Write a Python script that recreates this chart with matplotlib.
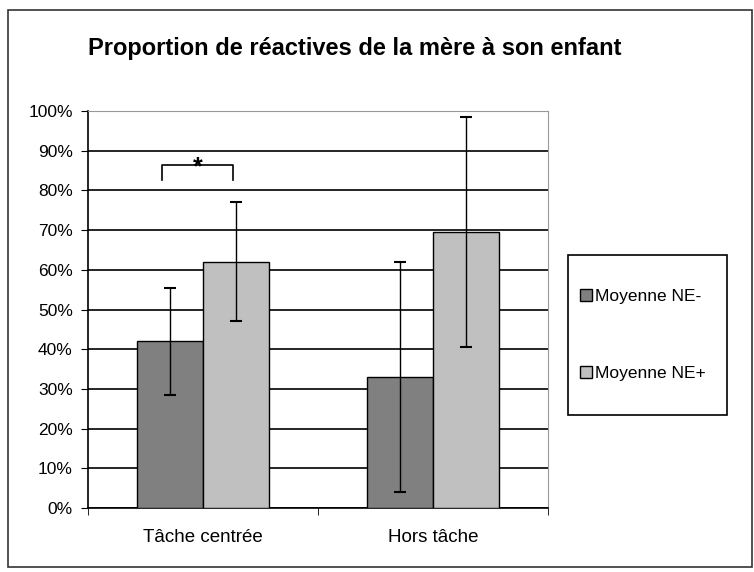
import numpy as np
import matplotlib.pyplot as plt
from matplotlib.patches import Rectangle
from matplotlib.ticker import PercentFormatter

plt.rcParams['font.family'] = ['Liberation Sans', 'DejaVu Sans']

categories = ['Tâche centrée', 'Hors tâche']
series_names = ['Moyenne NE-', 'Moyenne NE+']
ne_minus = [42, 33]
ne_plus = [62, 69.5]
err_minus = [13.5, 29]
err_plus = [15, 29]
colors = ['#808080', '#c0c0c0']

fig = plt.figure(figsize=(7.54, 5.72), dpi=100)
fig.patches.append(Rectangle((8 / 754, 5 / 572), 744 / 754, 557 / 572,
                             transform=fig.transFigure, fill=False,
                             edgecolor='#333333', linewidth=1.2))
ax = fig.add_axes([88 / 754, 64 / 572, 460 / 754, 397 / 572])

x = np.arange(len(categories))
w = 1 / 3.5
ax.bar(x - w / 2, ne_minus, w, color=colors[0], edgecolor='black', linewidth=1,
       label=series_names[0], zorder=3)
ax.bar(x + w / 2, ne_plus, w, color=colors[1], edgecolor='black', linewidth=1,
       label=series_names[1], zorder=3)
ax.errorbar(x - w / 2, ne_minus, yerr=err_minus, fmt='none', ecolor='black',
            elinewidth=1, capsize=4, capthick=1.5, zorder=4)
ax.errorbar(x + w / 2, ne_plus, yerr=err_plus, fmt='none', ecolor='black',
            elinewidth=1, capsize=4, capthick=1.5, zorder=4)

# significance bracket
x0, x1 = x[0] - w * 0.62, x[0] + w * 0.45
ax.plot([x0, x0, x1, x1], [82.5, 86.3, 86.3, 82.5], color='black', lw=1.2, zorder=4)
ax.text((x0 + x1) / 2, 85.8, '*', ha='center', va='center', fontsize=18,
        fontweight='bold')

ax.set_xlim(-0.5, 1.5)
ax.set_ylim(0, 100)
ax.set_yticks(np.arange(0, 101, 10))
ax.yaxis.set_major_formatter(PercentFormatter(decimals=0))
ax.yaxis.grid(True, color='black', linewidth=1.2, zorder=0)
ax.set_xticks(x)
ax.set_xticklabels(categories)
ax.set_xticks([-0.5, 0.5, 1.5], minor=True)
ax.tick_params(axis='x', which='major', length=0, pad=15, labelsize=13.5)
ax.tick_params(axis='x', which='minor', length=5, direction='out')
ax.tick_params(axis='y', length=5, direction='out', labelsize=12.5, pad=6)
ax.spines['top'].set_color('#999999')
ax.spines['right'].set_color('#999999')
ax.spines['left'].set_linewidth(1.2)
ax.spines['bottom'].set_linewidth(1.2)

fig.text(355 / 754, 1 - 48 / 572, 'Proportion de réactives de la mère à son enfant',
         ha='center', va='center', fontsize=17, fontweight='bold')

fig.patches.append(Rectangle((568 / 754, 1 - 415 / 572), 159 / 754, 160 / 572,
                             transform=fig.transFigure, fill=False,
                             edgecolor='black', linewidth=1.2))
leg = fig.legend(loc='center left', bbox_to_anchor=(580 / 754, 1 - 335 / 572),
                 frameon=False, fontsize=12.5, handlelength=0.7, handleheight=0.7,
                 handletextpad=0.15, labelspacing=3.6, borderpad=0, borderaxespad=0)

fig.savefig('out.png', dpi=100)
